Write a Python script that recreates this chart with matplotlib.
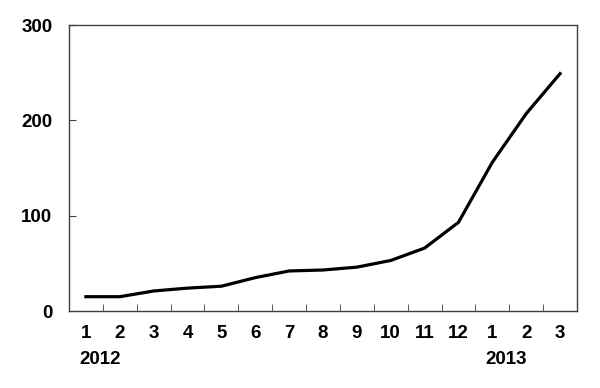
import matplotlib.pyplot as plt
import numpy as np

plt.rcParams['font.family'] = ['Liberation Sans', 'DejaVu Sans']

# Datos mensuales (2012-01 a 2013-03)
months = ['1', '2', '3', '4', '5', '6', '7', '8', '9', '10', '11', '12', '1', '2', '3']
values = [15, 15, 21, 24, 26, 35, 42, 43, 46, 53, 66, 93, 156, 207, 249]
years = ['2012', '2013']
year_start = [0, 12]

x = np.arange(len(months))
fs = 13.5

fig = plt.figure(figsize=(6, 3.88), dpi=100)
ax = fig.add_axes([69/600, 1 - 311/388, (577-69)/600, (311-25)/388])

ax.plot(x, values, color='black', lw=2.3, solid_joinstyle='miter')

ax.set_xlim(-0.5, len(months) - 0.5)
ax.set_ylim(0, 300)
ax.set_yticks([0, 100, 200, 300])

# etiquetas en el centro, marcas entre categorías
ax.set_xticks(x)
ax.set_xticklabels(months, fontsize=fs, fontweight='bold')
ax.set_xticks(np.arange(0.5, len(months) - 0.5), minor=True)
ax.tick_params(axis='x', which='major', length=0, pad=10)
ax.tick_params(axis='x', which='minor', direction='in', length=5, color='#404040')
ax.tick_params(axis='y', direction='in', length=5, color='#404040', labelsize=fs, pad=12)
for lab in ax.get_yticklabels():
    lab.set_fontweight('bold')

for sp in ax.spines.values():
    sp.set_color('#404040')
    sp.set_linewidth(1)

for yr, i in zip(years, year_start):
    ax.text(i - 0.2, -0.14, yr, transform=ax.get_xaxis_transform(),
            ha='left', va='top', fontsize=fs, fontweight='bold')

fig.savefig('out.png', dpi=100)
